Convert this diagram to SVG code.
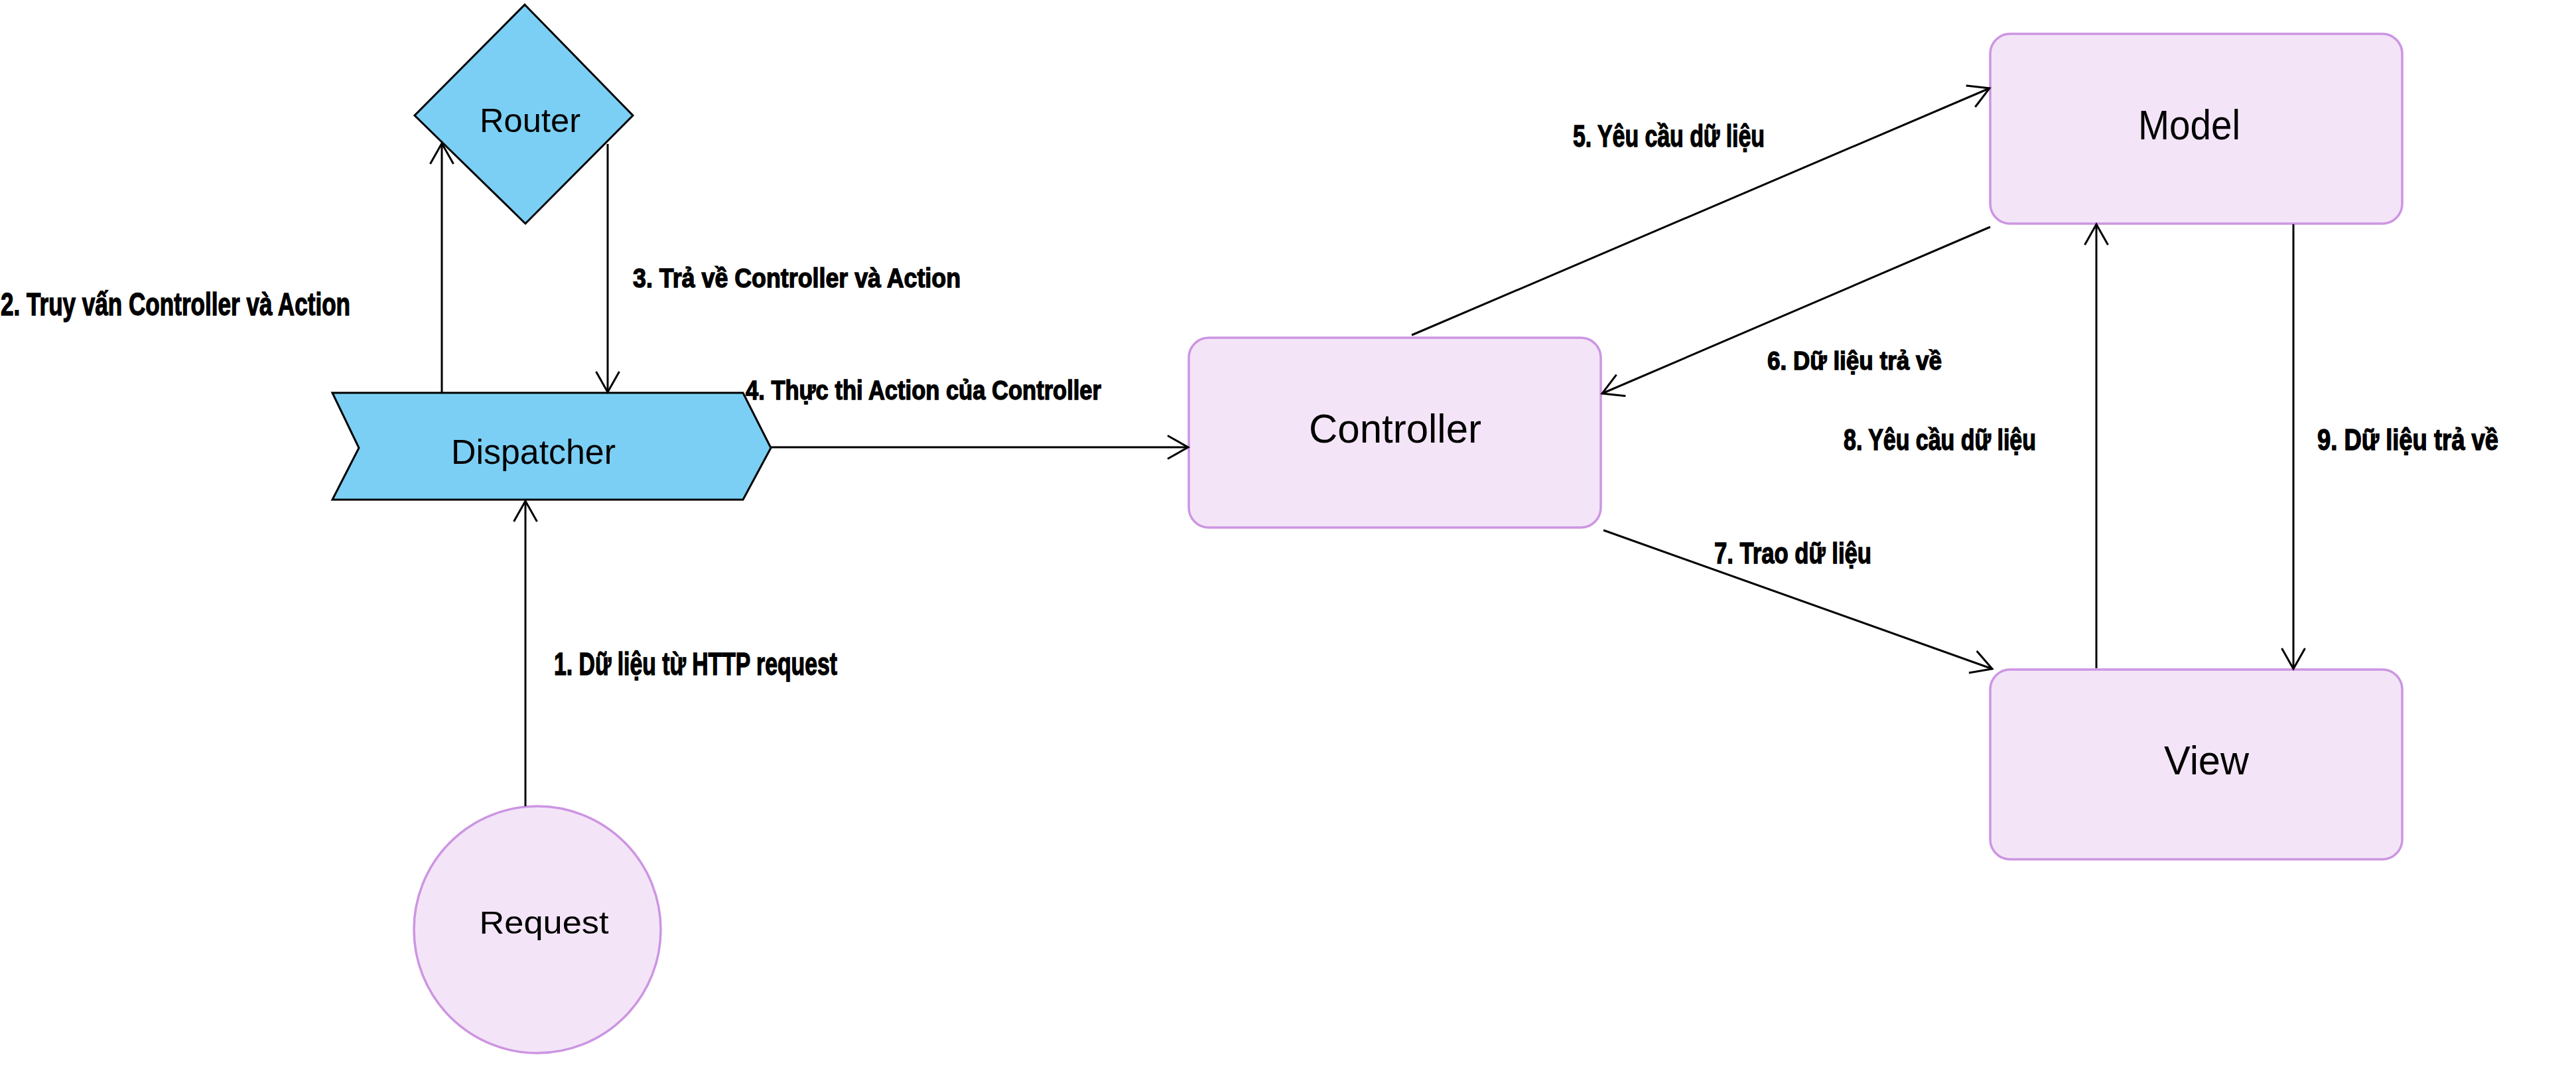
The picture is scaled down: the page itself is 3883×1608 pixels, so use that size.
<svg xmlns="http://www.w3.org/2000/svg" width="3883" height="1608" viewBox="0 0 3883 1608">
<style>
.blue{fill:#7BCFF4;stroke:#000;stroke-width:3}
.purple{fill:#F3E5F7;stroke:#CD95E2;stroke-width:3.5}
.node{font-family:"Liberation Sans",Arial,sans-serif;fill:#000;text-anchor:middle}
.lbl{font-family:"Liberation Sans","DejaVu Sans",sans-serif;font-weight:bold;fill:#000;stroke:#000;stroke-width:1.4}
.conn{stroke:#000;stroke-width:3;fill:none;marker-end:url(#arr)}
</style>
<defs>
<marker id="arr" markerUnits="userSpaceOnUse" viewBox="-36 -22 40 44" markerWidth="40" markerHeight="44" refX="0" refY="0" orient="auto">
<path d="M-31,-17.5 L0,0 L-31,17.5" fill="none" stroke="#000" stroke-width="3"/>
</marker>
</defs>
<rect width="3883" height="1608" fill="#fff"/>
<g id="router">
<polygon class="blue" points="791,7 954,174 792,337 625,174"/>
<text class="node" x="799" y="199" font-size="50" textLength="152" lengthAdjust="spacingAndGlyphs">Router</text>
</g>
<g id="dispatcher">
<polygon class="blue" points="501,592 1120,592 1162,675 1120,753 501,753 541,675"/>
<text class="node" x="804" y="699" font-size="51" textLength="248" lengthAdjust="spacingAndGlyphs">Dispatcher</text>
</g>
<g id="controller">
<rect class="purple" x="1792" y="509" width="621" height="286" rx="30" ry="30"/>
<text class="node" x="2103" y="667" font-size="62" textLength="260" lengthAdjust="spacingAndGlyphs">Controller</text>
</g>
<g id="model">
<rect class="purple" x="3000" y="51" width="621" height="286" rx="30" ry="30"/>
<text class="node" x="3300" y="210" font-size="63" textLength="154" lengthAdjust="spacingAndGlyphs">Model</text>
</g>
<g id="view">
<rect class="purple" x="3000" y="1009" width="621" height="286" rx="30" ry="30"/>
<text class="node" x="3326" y="1167" font-size="62" textLength="128" lengthAdjust="spacingAndGlyphs">View</text>
</g>
<g id="request">
<circle class="purple" cx="810" cy="1401" r="186"/>
<text class="node" x="820" y="1407" font-size="49" textLength="195" lengthAdjust="spacingAndGlyphs">Request</text>
</g>
<g id="connectors">
<line class="conn" x1="792" y1="1215" x2="792" y2="755"/>
<line class="conn" x1="666" y1="592" x2="666" y2="216"/>
<line class="conn" x1="916" y1="217" x2="916" y2="591"/>
<line class="conn" x1="1162" y1="674" x2="1791" y2="674"/>
<line class="conn" x1="2128" y1="505" x2="2999" y2="133"/>
<line class="conn" x1="3000" y1="342" x2="2415" y2="593"/>
<line class="conn" x1="2417" y1="799" x2="3003" y2="1008"/>
<line class="conn" x1="3160" y1="1007" x2="3160" y2="338"/>
<line class="conn" x1="3457" y1="338" x2="3457" y2="1008"/>
</g>
<g id="labels">
<text class="lbl" x="835" y="1017" font-size="48" textLength="427" lengthAdjust="spacingAndGlyphs">1. Dữ liệu từ HTTP request</text>
<text class="lbl" x="1" y="475" font-size="48" textLength="527" lengthAdjust="spacingAndGlyphs">2. Truy vấn Controller và Action</text>
<text class="lbl" x="954" y="433" font-size="41" textLength="494" lengthAdjust="spacingAndGlyphs">3. Trả về Controller và Action</text>
<text class="lbl" x="1124" y="602" font-size="40" textLength="536" lengthAdjust="spacingAndGlyphs">4. Thực thi Action của Controller</text>
<text class="lbl" x="2371" y="221" font-size="47" textLength="289" lengthAdjust="spacingAndGlyphs">5. Yêu cầu dữ liệu</text>
<text class="lbl" x="2664" y="557" font-size="39" textLength="263" lengthAdjust="spacingAndGlyphs">6. Dữ liệu trả về</text>
<text class="lbl" x="2584" y="849" font-size="45" textLength="237" lengthAdjust="spacingAndGlyphs">7. Trao dữ liệu</text>
<text class="lbl" x="2779" y="678" font-size="44" textLength="290" lengthAdjust="spacingAndGlyphs">8. Yêu cầu dữ liệu</text>
<text class="lbl" x="3493" y="678" font-size="44" textLength="273" lengthAdjust="spacingAndGlyphs">9. Dữ liệu trả về</text>
</g>
</svg>
